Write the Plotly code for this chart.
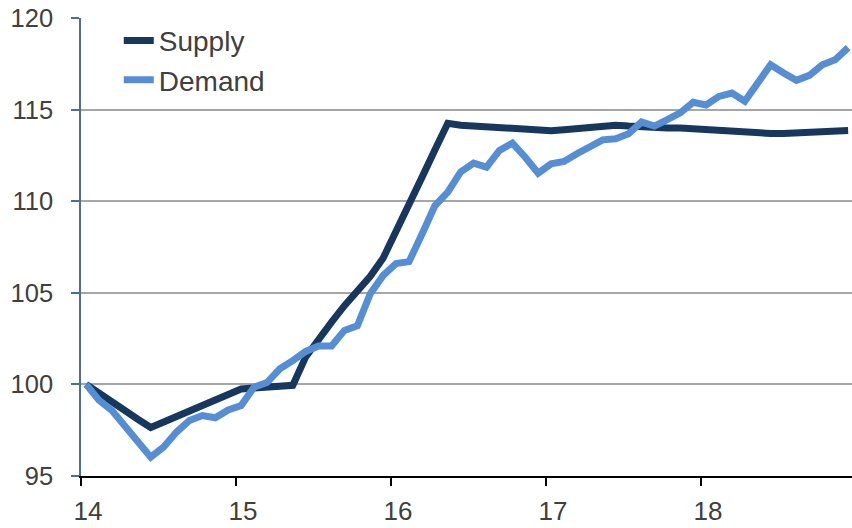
import plotly.graph_objects as go

# Monthly observations, Jan 2014 .. Dec 2018 (index, 2014m1 = 100)
months = list(range(60))
supply = [100.0, 99.5, 99.0, 98.6, 98.1, 97.65, 97.95, 98.25, 98.6, 98.9, 99.25, 99.55,
          99.75, 99.8, 99.85, 99.85, 99.95, 101.5, 102.5, 103.4, 104.3, 105.1, 105.9, 106.9,
          108.3, 109.8, 111.3, 112.8, 114.25, 114.15, 114.1, 114.05, 114.0, 113.95, 113.9, 113.82,
          113.85, 113.9, 113.95, 114.0, 114.1, 114.15, 114.1, 114.05, 114.05, 114.0, 114.0, 113.95,
          113.95, 113.9, 113.85, 113.8, 113.75, 113.7, 113.7, 113.75, 113.75, 113.8, 113.82, 113.86]
demand = [100.0, 99.13, 98.58, 97.76, 96.94, 96.03, 96.58, 97.4, 98.03, 98.3, 98.18, 98.6,
          98.85, 99.85, 100.1, 100.85, 101.3, 101.8, 102.1, 102.1, 102.95, 103.2, 104.95, 105.95,
          106.6, 106.7, 108.2, 109.75, 110.5, 111.6, 112.08, 111.86, 112.77, 113.17, 112.4, 111.53,
          112.04, 112.17, 112.59, 112.99, 113.35, 113.41, 113.68, 114.32, 114.1, 114.45, 114.82, 115.4,
          115.25, 115.72, 115.9, 115.46, 116.5, 117.45, 117.0, 116.6, 116.87, 117.45, 117.72, 118.38]
year_ticks = [14, 15, 16, 17, 18]
year_labels = ["14", "15", "16", "17", "18"]

x = [14 + (m + 0.4) / 12 for m in months]

fig = go.Figure()
fig.add_trace(go.Scatter(x=x, y=supply, mode="lines", name="Supply",
                         line=dict(color="#17375E", width=7)))
fig.add_trace(go.Scatter(x=x, y=demand, mode="lines", name="Demand",
                         line=dict(color="#558ED5", width=7)))

fig.update_layout(
    width=852, height=528,
    margin=dict(l=81, r=0, t=18, b=52),
    paper_bgcolor="white", plot_bgcolor="white",
    font=dict(family="Liberation Sans, Arial, sans-serif", size=25, color="#404040"),
    legend=dict(x=0.049, y=1.005, xanchor="left", yanchor="top",
                bgcolor="rgba(0,0,0,0)", font=dict(size=28, color="#404040"),
                tracegroupgap=0),
    showlegend=True,
)
fig.update_xaxes(range=[14, 18.975], tickmode="array", tickvals=year_ticks, ticktext=year_labels,
                 showgrid=False, zeroline=False, showline=True, linecolor="#000000", linewidth=1.5,
                 ticks="outside", ticklen=8, tickcolor="#000000", tickwidth=1.5,
                 tickfont=dict(size=26),
                 ticklabelshift=7, ticklabelstandoff=3, automargin=False,
                 ticklabeloverflow="allow")
fig.update_yaxes(range=[95, 120], tickmode="array", tickvals=[95, 100, 105, 110, 115, 120],
                 showgrid=True, gridcolor="#A6A6A6", gridwidth=1.5, zeroline=False,
                 showline=True, linecolor="#4A7098", linewidth=1.5,
                 ticks="outside", ticklen=8, tickcolor="#4A7098", tickwidth=1.5,
                 tickfont=dict(size=25.5),
                 ticklabelstandoff=13, automargin=False, ticklabeloverflow="allow")

# remove the page's default body margin so the figure fills the window exactly
fig.write_html("out.html", config={"displayModeBar": False},
               post_script="document.body.style.margin='0';")
